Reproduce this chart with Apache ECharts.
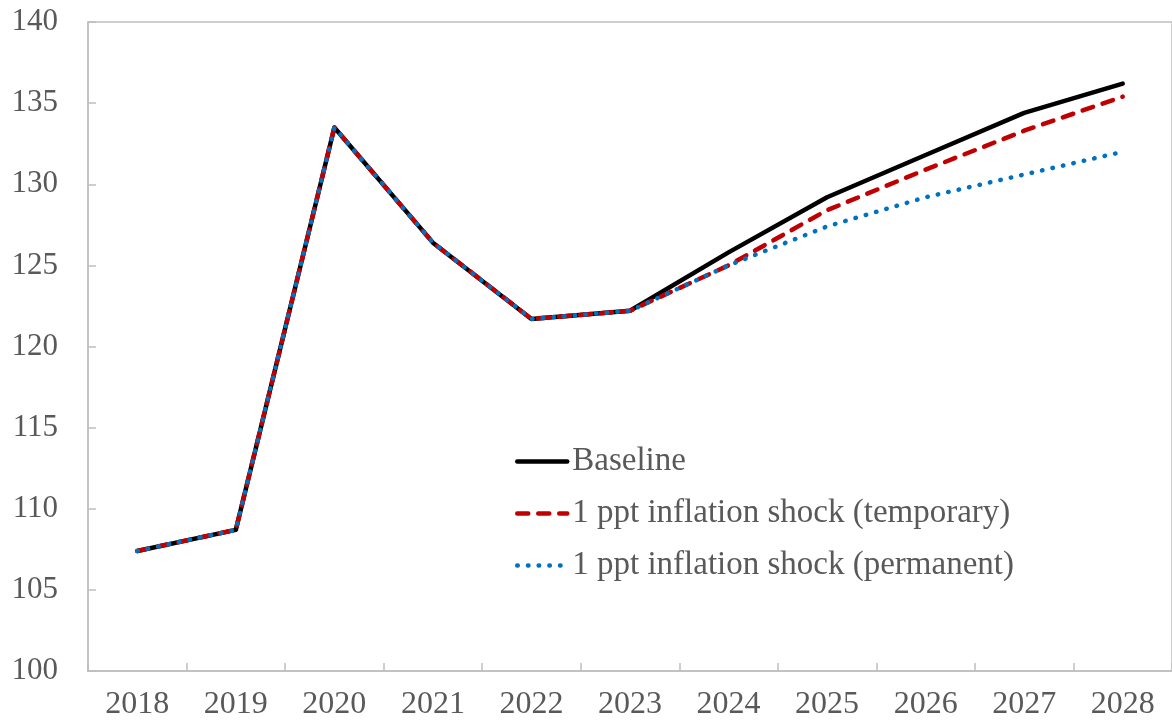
<!DOCTYPE html>
<html>
<head>
<meta charset="utf-8">
<script src="https://cdn.jsdelivr.net/npm/echarts@6/dist/echarts.min.js"></script>
<style>
  html, body { margin: 0; padding: 0; background: #fff; }
  #main { width: 1172px; height: 728px; }
</style>
</head>
<body>
<div id="main"></div>
<script>
var years = ['2018', '2019', '2020', '2021', '2022', '2023', '2024', '2025', '2026', '2027', '2028'];
var baseline = [107.4, 108.7, 133.5, 126.4, 121.7, 122.2, 125.8, 129.2, 131.8, 134.4, 136.2];
var shockTemp = [107.4, 108.7, 133.5, 126.4, 121.7, 122.2, 125.0, 128.4, 130.9, 133.3, 135.4];
var shockPerm = [107.4, 108.7, 133.5, 126.4, 121.7, 122.2, 125.0, 127.4, 129.2, 130.6, 132.0];

var font = 'Liberation Serif';
var textColor = '#595959';
var axisColor = '#bfbfbf';

var chart = echarts.init(document.getElementById('main'));
var option = {
    backgroundColor: '#ffffff',
    animation: false,
    grid: {
        left: 88,
        top: 22,
        width: 1089,
        height: 649,
        show: true,
        borderColor: axisColor,
        borderWidth: 1.5,
        containLabel: false
    },
    legend: {
        orient: 'vertical',
        left: 510,
        top: 440,
        itemWidth: 50,
        itemHeight: 14,
        itemGap: 19,
        data: ['Baseline', '1 ppt inflation shock (temporary)', '1 ppt inflation shock (permanent)'],
        itemStyle: { opacity: 0 },
        lineStyle: { width: 4.5 },
        textStyle: {
            fontFamily: font,
            fontSize: 33,
            lineHeight: 33,
            color: textColor
        }
    },
    xAxis: {
        type: 'category',
        data: years,
        boundaryGap: true,
        axisLine: { lineStyle: { color: axisColor, width: 1.5 } },
        axisTick: { show: true, inside: true, length: 8, lineStyle: { color: axisColor, width: 1.5 } },
        axisLabel: { fontFamily: font, fontSize: 32, color: textColor, margin: 18 },
        splitLine: { show: false }
    },
    yAxis: {
        type: 'value',
        min: 100,
        max: 140,
        interval: 5,
        axisLine: { show: true, lineStyle: { color: axisColor, width: 1.5 } },
        axisTick: { show: true, inside: true, length: 8, lineStyle: { color: axisColor, width: 1.5 } },
        axisLabel: { fontFamily: font, fontSize: 31, color: textColor, margin: 30 },
        splitLine: { show: false }
    },
    series: [
        {
            name: 'Baseline',
            type: 'line',
            data: baseline,
            symbol: 'none',
            z: 1,
            itemStyle: { color: '#000000' },
            lineStyle: { color: '#000000', width: 4.5, cap: 'round', join: 'round' }
        },
        {
            name: '1 ppt inflation shock (temporary)',
            type: 'line',
            data: shockTemp,
            symbol: 'none',
            z: 2,
            itemStyle: { color: '#c00000' },
            lineStyle: { color: '#c00000', width: 4.5, type: [11, 10], cap: 'round', join: 'round' }
        },
        {
            name: '1 ppt inflation shock (permanent)',
            type: 'line',
            data: shockPerm,
            symbol: 'none',
            z: 3,
            itemStyle: { color: '#0070c0' },
            lineStyle: { color: '#0070c0', width: 4.5, type: [0.5, 10.2], cap: 'round', join: 'round' }
        }
    ]
};
chart.setOption(option);
</script>
</body>
</html>
